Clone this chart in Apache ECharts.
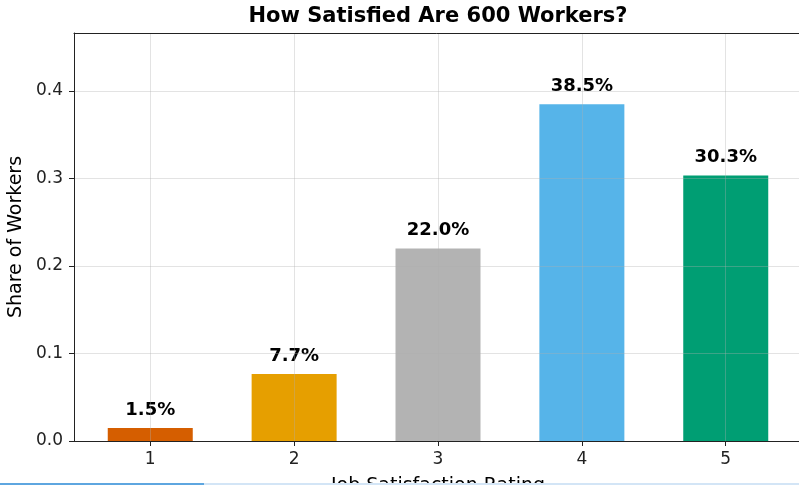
<!DOCTYPE html>
<html>
<head>
<meta charset="utf-8">
<script src="https://cdn.jsdelivr.net/npm/echarts@6/dist/echarts.min.js"></script>
<style>
html,body{margin:0;padding:0;background:#fff;}
#c{width:799px;height:485px;}
</style>
</head>
<body>
<div id="c"></div>
<script>
const categories = [1, 2, 3, 4, 5];
const shares = [0.015, 0.0767, 0.22, 0.385, 0.3033];
const barColors = ['#D55E00', '#E69F00', '#B3B3B3', '#56B4E9', '#009E73'];
const yTicks = [0, 0.1, 0.2, 0.3, 0.4];

const FONT = 'DejaVu Sans';
const chart = echarts.init(document.getElementById('c'), null, {renderer: 'canvas'});

const gridLine = {show: true, lineStyle: {color: 'rgba(176,176,176,0.35)', width: 1}};

chart.setOption({
  animation: false,
  backgroundColor: '#ffffff',
  title: {
    text: 'How Satisfied Are 600 Workers?',
    left: 438,
    textAlign: 'center',
    top: 6,
    padding: 0,
    textStyle: {fontFamily: FONT, fontWeight: 'bold', fontSize: 21, color: '#000', lineHeight: 22}
  },
  grid: {left: 74, top: 33, width: 728, height: 408, containLabel: false, outerBoundsMode: 'none'},
  xAxis: [{
    type: 'value',
    min: 0.47, max: 5.53,
    z: 3,
    name: 'Job Satisfaction Rating',
    nameLocation: 'middle',
    nameGap: 36,
    nameTextStyle: {fontFamily: FONT, fontSize: 19, color: '#000'},
    axisLine: {show: true, onZero: false, lineStyle: {color: '#222', width: 1}},
    axisTick: {show: true, length: 5, customValues: categories, lineStyle: {color: '#222'}},
    axisLabel: {show: true, customValues: categories, margin: 10, fontFamily: FONT, fontSize: 17, color: '#222',
      formatter: v => String(Math.round(v))},
    splitLine: gridLine
  }, {
    type: 'value',
    position: 'top',
    min: 0.47, max: 5.53,
    z: 3,
    axisLine: {show: true, onZero: false, lineStyle: {color: '#222', width: 1}},
    axisTick: {show: false},
    axisLabel: {show: false},
    splitLine: {show: false}
  }],
  yAxis: {
    type: 'value',
    min: 0, max: 0.4663,
    z: 3,
    name: 'Share of Workers',
    nameLocation: 'middle',
    nameGap: 44,
    nameTextStyle: {fontFamily: FONT, fontSize: 19, color: '#000'},
    axisLine: {show: true, onZero: false, lineStyle: {color: '#222', width: 1}},
    axisTick: {show: true, length: 5, customValues: yTicks, lineStyle: {color: '#222'}},
    axisLabel: {show: true, customValues: yTicks, margin: 11, fontFamily: FONT, fontSize: 17, color: '#222',
      formatter: v => v.toFixed(1)},
    splitLine: gridLine
  },
  series: [{
    type: 'bar',
    z: 2,
    xAxisIndex: 0,
    barWidth: 85,
    data: categories.map((c, i) => ({value: [c, shares[i]], itemStyle: {color: barColors[i]}})),
    label: {
      show: true,
      position: 'top',
      distance: 9,
      fontFamily: FONT,
      fontWeight: 'bold',
      fontSize: 18,
      color: '#000',
      formatter: p => (p.value[1] * 100).toFixed(1) + '%'
    }
  }],
  graphic: [
    {type: 'rect', shape: {x: 0, y: 483, width: 204, height: 2}, style: {fill: '#5ea6e0'}, z: 100},
    {type: 'rect', shape: {x: 204, y: 483, width: 595, height: 2}, style: {fill: '#d3e5f6'}, z: 100}
  ]
});
</script>
</body>
</html>
